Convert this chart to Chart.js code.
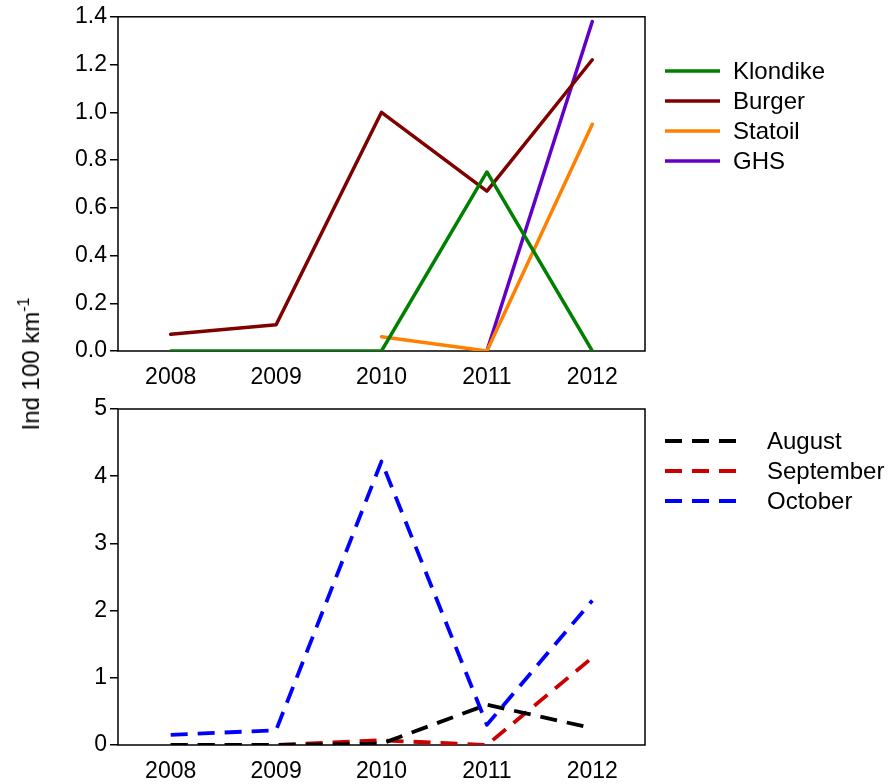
<!DOCTYPE html>
<html>
<head>
<meta charset="utf-8">
<script src="https://cdn.jsdelivr.net/npm/chart.js@4"></script>
<style>
  html, body { margin: 0; padding: 0; background: #fff; }
  #wrap { position: relative; width: 889px; height: 784px; overflow: hidden;
          font-family: "Liberation Sans", Arial, Helvetica, sans-serif; }
  canvas { position: absolute; left: 0; }
  #topChart { top: 0; }
  #bottomChart { top: 392px; }
  #ytitle { position: absolute; left: 31px; top: 364px; font-size: 24px; color: #000;
            white-space: nowrap; transform: translate(-50%, -50%) rotate(-90deg); }
  #ytitle sup { font-size: 16px; vertical-align: 10px; line-height: 0; }
</style>
</head>
<body>
<div id="wrap">
  <canvas id="topChart" width="889" height="392"></canvas>
  <canvas id="bottomChart" width="889" height="392"></canvas>
  <div id="ytitle">Ind 100 km<sup>-1</sup></div>
</div>
<script>
// Survey years
const years = ['2008', '2009', '2010', '2011', '2012'];

// Density by study area (individuals per 100 km)
const klondike = [0, 0, 0, 0.75, 0];
const burger   = [0.07, 0.11, 1.0, 0.67, 1.22];
const statoil  = [null, null, 0.06, 0, 0.95];
const ghs      = [null, null, null, 0, 1.38];

// Density by survey month (individuals per 100 km)
const august    = [0, 0, 0.02, 0.6, 0.25];
const september = [0, 0, 0.07, 0, 1.3];
const october   = [0.15, 0.22, 4.22, 0.3, 2.15];

// Y-axis tick values for each panel
const topYTicks    = [0, 0.2, 0.4, 0.6, 0.8, 1.0, 1.2, 1.4];
const bottomYTicks = [0, 1, 2, 3, 4, 5];

const FONT = '"Liberation Sans", Arial, Helvetica, sans-serif';
const TICK_SIZE = 23;
const LEGEND_SIZE = 24;
Chart.defaults.font.family = FONT;
Chart.defaults.color = '#000';

// Black box around the plotting region, drawn beneath the series lines
const framePlugin = {
  id: 'frame',
  beforeDatasetsDraw(chart) {
    const { ctx, chartArea: a } = chart;
    ctx.save();
    ctx.strokeStyle = '#000';
    ctx.lineWidth = 1.5;
    ctx.setLineDash([]);
    ctx.strokeRect(a.left, a.top, a.right - a.left, a.bottom - a.top);
    ctx.restore();
  }
};

// Legend to the right of the plot: line sample followed by the series name
const sideLegendPlugin = {
  id: 'sideLegend',
  afterDraw(chart, args, opts) {
    const ctx = chart.ctx;
    chart.data.datasets.forEach((ds, i) => {
      const y = opts.y0 + i * opts.step;
      ctx.save();
      ctx.strokeStyle = ds.borderColor;
      ctx.lineWidth = ds.borderWidth;
      ctx.lineCap = 'butt';
      ctx.setLineDash(ds.borderDash || []);
      ctx.beginPath();
      ctx.moveTo(opts.x0, y);
      ctx.lineTo(opts.x1, y);
      ctx.stroke();
      ctx.setLineDash([]);
      ctx.fillStyle = '#000';
      ctx.font = LEGEND_SIZE + 'px ' + FONT;
      ctx.textBaseline = 'middle';
      ctx.textAlign = 'left';
      ctx.fillText(ds.label, opts.tx, y + 1);
      ctx.restore();
    });
  }
};

function solid(label, data, color) {
  return { label, data, borderColor: color, backgroundColor: color, borderWidth: 3.5,
           pointRadius: 0, pointHoverRadius: 0, tension: 0, fill: false, spanGaps: false,
           borderCapStyle: 'round', borderJoinStyle: 'round' };
}
function dashed(label, data, color) {
  return { label, data, borderColor: color, backgroundColor: color, borderWidth: 3.8,
           borderDash: [17, 10], pointRadius: 0, pointHoverRadius: 0, tension: 0, fill: false,
           borderCapStyle: 'butt', borderJoinStyle: 'round' };
}

function buildOptions(cfg) {
  return {
    responsive: false,
    animation: false,
    events: [],
    layout: { padding: { left: 0, right: 244, top: cfg.padTop, bottom: 0 } },
    plugins: {
      legend: { display: false },
      tooltip: { enabled: false },
      sideLegend: cfg.legend
    },
    scales: {
      x: {
        type: 'category',
        offset: true,
        grid: { display: false, drawTicks: false },
        border: { display: false },
        ticks: { color: '#000', font: { size: TICK_SIZE }, padding: cfg.xPad,
                 maxRotation: 0, autoSkip: false },
        afterFit: s => { s.height = cfg.xHeight; }
      },
      y: {
        min: cfg.ticks[0],
        max: cfg.ticks[cfg.ticks.length - 1],
        afterBuildTicks: s => { s.ticks = cfg.ticks.map(v => ({ value: v })); },
        afterFit: s => { s.width = 118; },
        grid: { display: true, drawOnChartArea: false, drawTicks: true, tickLength: 8,
                color: '#000', lineWidth: 1.5 },
        border: { display: false },
        ticks: { color: '#000', font: { size: TICK_SIZE }, padding: 3,
                 callback: v => cfg.fmt(v) }
      }
    }
  };
}

new Chart(document.getElementById('topChart'), {
  type: 'line',
  data: {
    labels: years,
    datasets: [
      solid('Klondike', klondike, '#008000'),
      solid('Burger', burger, '#800000'),
      solid('Statoil', statoil, '#FF8000'),
      solid('GHS', ghs, '#6200C8')
    ]
  },
  options: buildOptions({
    padTop: 15, xHeight: 41, xPad: 13, ticks: topYTicks,
    fmt: v => Number(v).toFixed(1),
    legend: { x0: 665, x1: 720, tx: 733, y0: 71, step: 30 }
  }),
  plugins: [framePlugin, sideLegendPlugin]
});

new Chart(document.getElementById('bottomChart'), {
  type: 'line',
  data: {
    labels: years,
    datasets: [
      dashed('August', august, '#000000'),
      dashed('September', september, '#CC0000'),
      dashed('October', october, '#0000FF')
    ]
  },
  options: buildOptions({
    padTop: 17, xHeight: 39, xPad: 13, ticks: bottomYTicks,
    fmt: v => String(Number(v)),
    legend: { x0: 665, x1: 738, tx: 767, y0: 49, step: 30 }
  }),
  plugins: [framePlugin, sideLegendPlugin]
});
</script>
</body>
</html>
